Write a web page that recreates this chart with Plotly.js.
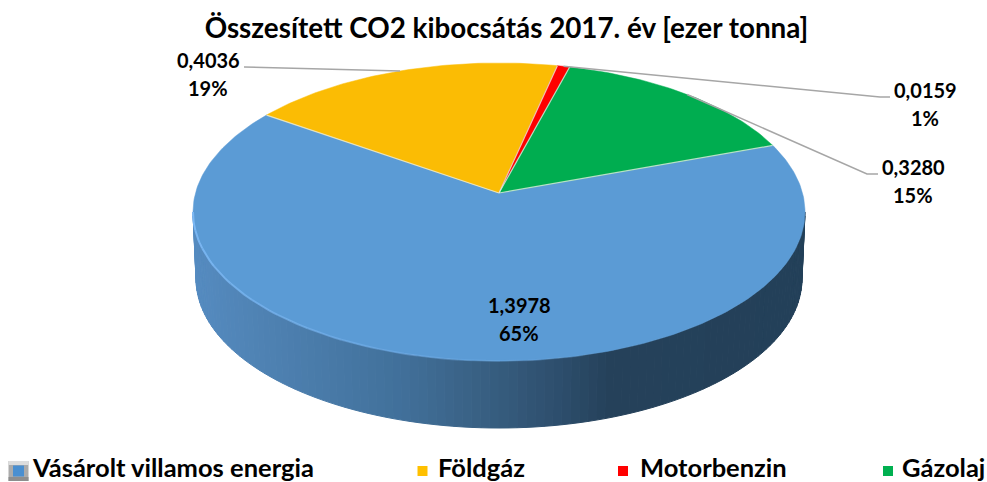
<!DOCTYPE html>
<html><head><meta charset="utf-8">
<script src="https://cdn.plot.ly/plotly-3.0.1.min.js"></script>
<style>html,body{margin:0;padding:0;background:#fff}#c{width:987px;height:482px}</style>
</head><body><div id="c"></div>
<script>
const categories = ["Vásárolt villamos energia", "Földgáz", "Motorbenzin", "Gázolaj"];
const values = [1.3978, 0.4036, 0.0159, 0.3280];
const colors = ["#5B9BD5", "#FBBC04", "#FF0000", "#00AD50"];
const titleText = "Összesített CO2 kibocsátás 2017. év [ezer tonna]";

// projection of the tilted disc, in axis units
const P = {cx:499, cy:193, A:303.5, B:146.6, k:0.1274, first:70.2, depth:67, shrink:0.99};
const total = values.reduce((a,b)=>a+b,0);
const rad = d => d*Math.PI/180;
function topPt(deg){const u=Math.sin(rad(deg)),v=Math.cos(rad(deg)),w=1+P.k*v;
  return [P.cx+P.A*u/w, P.cy-P.B*v/w];}
function botPt(deg){const p=topPt(deg);return [P.cx+(p[0]-P.cx)*P.shrink, p[1]+P.depth];}

const traces=[];
function hexMix(a,b,t){const f=(h,i)=>parseInt(h.substr(1+2*i,2),16);
  return "rgb("+[0,1,2].map(i=>Math.round(f(a,i)+(f(b,i)-f(a,i))*t)).join(",")+")";}
const grad=[[192,"#558BC0"],[300,"#4B7DAC"],[400,"#41709A"],[470,"#3A6286"],[560,"#2D4E6C"],[610,"#25415A"],[805,"#234059"]];
function gradAt(x){for(let i=1;i<grad.length;i++){if(x<=grad[i][0]){
  return hexMix(grad[i-1][1],grad[i][1],(x-grad[i-1][0])/(grad[i][0]-grad[i-1][0]));}}
  return grad[grad.length-1][1];}

// side wall: strips over the front half of the rim
const wide=Math.acos(-P.k)*180/Math.PI;
const N=110, aStart=wide, aEnd=360-wide;
for(let i=0;i<N;i++){
  const a0=aStart+(aEnd-aStart)*i/N, a1=aStart+(aEnd-aStart)*(i+1)/N;
  const T0=topPt(a0),T1=topPt(a1),B0=botPt(a0),B1=botPt(a1);
  const c=gradAt((T0[0]+T1[0])/2);
  traces.push({type:"scatter",mode:"lines",x:[T0[0],T1[0],B1[0],B0[0],T0[0]],y:[T0[1],T1[1],B1[1],B0[1],T0[1]],
    fill:"toself",fillcolor:c,line:{color:c,width:1},hoverinfo:"skip",showlegend:false});
}

// top face slices
let start=P.first; const mids=[], shares=[];
values.forEach((val,i)=>{
  const span=val/total*360, xs=[P.cx], ys=[P.cy], n=Math.max(4,Math.ceil(span));
  for(let j=0;j<=n;j++){const p=topPt(start+span*j/n);xs.push(p[0]);ys.push(p[1]);}
  xs.push(P.cx);ys.push(P.cy);
  traces.push({type:"scatter",mode:"lines",x:xs,y:ys,fill:"toself",fillcolor:colors[i],
    line:{color:colors[i],width:0.5},hoverinfo:"skip",showlegend:false,name:categories[i]});
  mids.push(start+span/2); shares.push(val/total);
  start+=span;
});
// pale seams between slices
start=P.first;
values.forEach(val=>{const p=topPt(start);
  traces.push({type:"scatter",mode:"lines",x:[P.cx,p[0]],y:[P.cy,p[1]],line:{color:"rgba(235,240,230,0.75)",width:1.2},hoverinfo:"skip",showlegend:false});
  start+=val/total*360;});
// rim highlight on front-left
for(let i=0;i<14;i++){
  const a0=aEnd-(aEnd-180+14)*i/14, a1=aEnd-(aEnd-180+14)*(i+1)/14;
  const xs=[],ys=[];for(let j=0;j<=6;j++){const p=topPt(a0+(a1-a0)*j/6);xs.push(p[0]);ys.push(p[1]);}
  traces.push({type:"scatter",mode:"lines",x:xs,y:ys,line:{color:"rgba(125,185,245,"+(0.95-0.065*i)+")",width:2},hoverinfo:"skip",showlegend:false});
}

// leader lines: from slice mid-rim to label elbow
const leaders={1:[[244,67]],2:[[880,97],[890,97]],3:[[867,174],[878,174]]};
Object.keys(leaders).forEach(k=>{
  const p=topPt(mids[k]); const pts=[p].concat(leaders[k]);
  traces.push({type:"scatter",mode:"lines",x:pts.map(q=>q[0]),y:pts.map(q=>q[1]),line:{color:"#A6A6A6",width:1.5},hoverinfo:"skip",showlegend:false});
});

// legend markers
const legendMarkerX=[18.5,422.5,623,888], legendY=471, markerColors=["#5B9BD5","#FFC000","#FF0000","#00B050"];
traces.push({type:"scatter",mode:"markers",x:[legendMarkerX[0]],y:[legendY],marker:{symbol:"square",size:20,color:"#ABABAB",line:{width:0}},hoverinfo:"skip",showlegend:false});
traces.push({type:"scatter",mode:"lines",x:[8.5,28.5],y:[463,463],line:{color:"#DDDDDD",width:4},hoverinfo:"skip",showlegend:false});
traces.push({type:"scatter",mode:"lines",x:[8.5,28.5],y:[479,479],line:{color:"#8E8E8E",width:4},hoverinfo:"skip",showlegend:false});
traces.push({type:"scatter",mode:"markers",x:[legendMarkerX[0]],y:[legendY],marker:{symbol:"square",size:11,color:"#4A8FD0",line:{width:0}},hoverinfo:"skip",showlegend:false});
traces.push({type:"scatter",mode:"markers",x:legendMarkerX.slice(1),y:[legendY,legendY,legendY],marker:{symbol:"square",size:10,color:markerColors.slice(1),line:{width:0}},hoverinfo:"skip",showlegend:false});

const FONT="Lato, 'Open Sans', sans-serif";
const fmt=v=>v.toFixed(4).replace(".",",");
const pct=s=>Math.round(s*100)+"%";
const labelPos=[[208,60,88],[925,90,118],[913,167,195]];
const centerLabel=[519,305,333];
const ann=[];
values.forEach((v,i)=>{const L=i===0?centerLabel:labelPos[i-1];
  [[fmt(v),L[1]],[pct(shares[i]),L[2]]].forEach(t=>ann.push({x:L[0],y:t[1],xref:"x",yref:"y",text:"<b>"+t[0]+"</b>",showarrow:false,
    xanchor:"center",yanchor:"middle",font:{family:FONT,size:20,color:"#000"}}));
});
const legendTextX=[32,438,640,902];
categories.forEach((c,i)=>ann.push({x:legendTextX[i],y:467,xref:"x",yref:"y",text:"<b>"+c+"</b>",showarrow:false,
  xanchor:"left",yanchor:"middle",xshift:-2,font:{family:FONT,size:25.5,color:"#000"}}));

Plotly.newPlot("c",traces,{
  width:987,height:482,margin:{l:0,r:0,t:0,b:0},paper_bgcolor:"#fff",plot_bgcolor:"#fff",showlegend:false,
  title:{text:"<b>"+titleText+"</b>",x:506.5/987,xanchor:"center",y:1-28/482,yanchor:"middle",font:{family:FONT,size:27.8,color:"#000"}},
  xaxis:{range:[0,987],visible:false,fixedrange:true},
  yaxis:{range:[482,0],visible:false,fixedrange:true},
  annotations:ann
},{displayModeBar:false,staticPlot:true});
</script></body></html>
